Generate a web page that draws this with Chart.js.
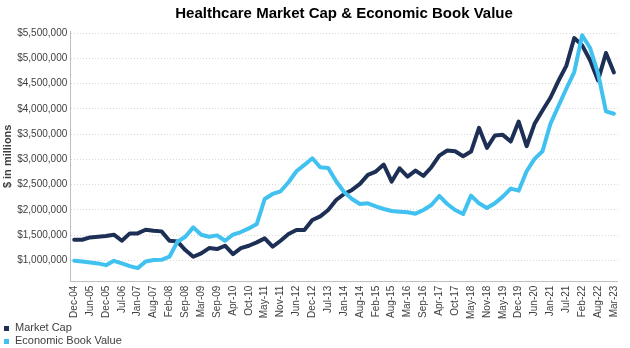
<!DOCTYPE html>
<html>
<head>
<meta charset="utf-8">
<script src="https://cdn.jsdelivr.net/npm/chart.js@4.4.1/dist/chart.umd.min.js"></script>
<style>
  html, body { margin: 0; padding: 0; background: #fff; }
  #wrap { width: 630px; height: 348px; position: relative; }
</style>
</head>
<body>
<div id="wrap"><canvas id="myChart"></canvas></div>
<script>
// dates of each data point (every other one is shown on the axis)
const dates = [
  'Dec-04', 'Mar-05', 'Jun-05', 'Sep-05', 'Dec-05', 'Apr-06', 'Jul-06', 'Oct-06', 'Jan-07', 'Apr-07',
  'Aug-07', 'Nov-07', 'Feb-08', 'May-08', 'Sep-08', 'Dec-08', 'Mar-09', 'Jun-09', 'Sep-09', 'Dec-09',
  'Apr-10', 'Jul-10', 'Oct-10', 'Jan-11', 'May-11', 'Aug-11', 'Nov-11', 'Feb-12', 'Jun-12', 'Sep-12',
  'Dec-12', 'Mar-13', 'Jul-13', 'Oct-13', 'Jan-14', 'Apr-14', 'Aug-14', 'Nov-14', 'Feb-15', 'May-15',
  'Aug-15', 'Nov-15', 'Mar-16', 'Jun-16', 'Sep-16', 'Dec-16', 'Apr-17', 'Jul-17', 'Oct-17', 'Jan-18',
  'May-18', 'Aug-18', 'Nov-18', 'Feb-19', 'May-19', 'Sep-19', 'Dec-19', 'Mar-20', 'Jun-20', 'Sep-20',
  'Jan-21', 'Apr-21', 'Jul-21', 'Oct-21', 'Feb-22', 'May-22', 'Aug-22', 'Nov-22', 'Mar-23'
];

// $ in millions
const marketCap = [
  1410000, 1410000, 1456000, 1469000, 1482000, 1509000, 1390000, 1535000, 1535000, 1608000,
  1588000, 1575000, 1390000, 1377000, 1205000, 1073000, 1139000, 1245000, 1225000, 1291000,
  1126000, 1245000, 1291000, 1357000, 1436000, 1271000, 1390000, 1522000, 1601000, 1601000,
  1800000, 1872000, 1998000, 2196000, 2315000, 2395000, 2514000, 2692000, 2758000, 2897000,
  2560000, 2824000, 2659000, 2778000, 2672000, 2844000, 3075000, 3174000, 3161000, 3062000,
  3155000, 3624000, 3227000, 3472000, 3485000, 3353000, 3749000, 3260000, 3703000, 3968000,
  4219000, 4550000, 4850000, 5400000, 5256000, 4960000, 4562000, 5104000, 4720000
];

const economicBookValue = [
  993000, 980000, 960000, 941000, 907000, 993000, 941000, 888000, 848000, 980000,
  1007000, 1013000, 1073000, 1370000, 1469000, 1654000, 1509000, 1469000, 1496000, 1390000,
  1509000, 1562000, 1634000, 1720000, 2216000, 2315000, 2368000, 2547000, 2765000, 2890000,
  3022000, 2844000, 2831000, 2566000, 2355000, 2216000, 2117000, 2130000, 2071000, 2018000,
  1978000, 1965000, 1952000, 1925000, 1998000, 2097000, 2276000, 2117000, 1998000, 1919000,
  2282000, 2130000, 2038000, 2130000, 2262000, 2421000, 2381000, 2765000, 3009000, 3161000,
  3703000, 4050000, 4397000, 4728000, 5455000, 5204000, 4701000, 3948000, 3902000
];

const yTicks = [1000000, 1500000, 2000000, 2500000, 3000000, 3500000, 4000000, 4500000, 5000000, 5500000];

const navy = '#1d2f55';
const sky = '#40c1ef';
const textColor = '#404040';
const fontFamily = '"Liberation Sans", Arial, sans-serif';

// legend stacked in the bottom-left corner, like the original
const stackedLegend = {
  id: 'stackedLegend',
  afterDraw(chart) {
    const ctx = chart.ctx;
    ctx.save();
    ctx.font = '11px ' + fontFamily;
    ctx.textBaseline = 'middle';
    chart.data.datasets.forEach((ds, i) => {
      const y = 328 + i * 13;
      ctx.fillStyle = ds.borderColor;
      ctx.fillRect(4, y - 2, 5, 5);
      ctx.fillStyle = textColor;
      ctx.fillText(ds.label, 15, y);
    });
    ctx.restore();
  }
};

const ctx = document.getElementById('myChart');

new Chart(ctx, {
  type: 'line',
  data: {
    labels: dates,
    datasets: [
      {
        label: 'Market Cap',
        data: marketCap,
        borderColor: navy,
        backgroundColor: navy,
        borderWidth: 4,
        pointRadius: 0,
        borderJoinStyle: 'round',
        borderCapStyle: 'round',
        order: 2
      },
      {
        label: 'Economic Book Value',
        data: economicBookValue,
        borderColor: sky,
        backgroundColor: sky,
        borderWidth: 4,
        pointRadius: 0,
        borderJoinStyle: 'round',
        borderCapStyle: 'round',
        order: 1
      }
    ]
  },
  options: {
    responsive: true,
    maintainAspectRatio: false,
    animation: false,
    layout: { padding: { left: 1, right: 2, top: 3, bottom: 25 } },
    plugins: {
      legend: { display: false },
      tooltip: { enabled: false },
      title: {
        display: true,
        text: 'Healthcare Market Cap & Economic Book Value',
        color: '#000',
        fullSize: false,
        font: { family: fontFamily, size: 15, weight: 'bold' },
        padding: { top: 2, bottom: 8 }
      }
    },
    scales: {
      x: {
        offset: true,
        grid: { display: false, drawTicks: false },
        border: { color: '#bfbfbf', width: 1 },
        ticks: {
          autoSkip: false,
          maxRotation: 90,
          minRotation: 90,
          padding: 4,
          color: textColor,
          font: { family: fontFamily, size: 10 },
          callback: function (value, index) {
            return index % 2 === 0 ? this.getLabelForValue(value) : '';
          }
        }
      },
      y: {
        min: 580000,
        max: 5540000,
        afterBuildTicks: axis => { axis.ticks = yTicks.map(v => ({ value: v })); },
        grid: { color: '#d9d9d9', drawTicks: false },
        border: { color: '#bfbfbf', width: 1, dash: [1, 2] },
        ticks: {
          padding: 3,
          color: textColor,
          font: { family: fontFamily, size: 10 },
          callback: v => '$' + v.toLocaleString('en-US')
        },
        title: {
          display: true,
          text: '$ in millions',
          color: textColor,
          font: { family: fontFamily, size: 11, weight: 'bold' },
          padding: { top: 0, bottom: 0 }
        }
      }
    }
  },
  plugins: [stackedLegend]
});
</script>
</body>
</html>
